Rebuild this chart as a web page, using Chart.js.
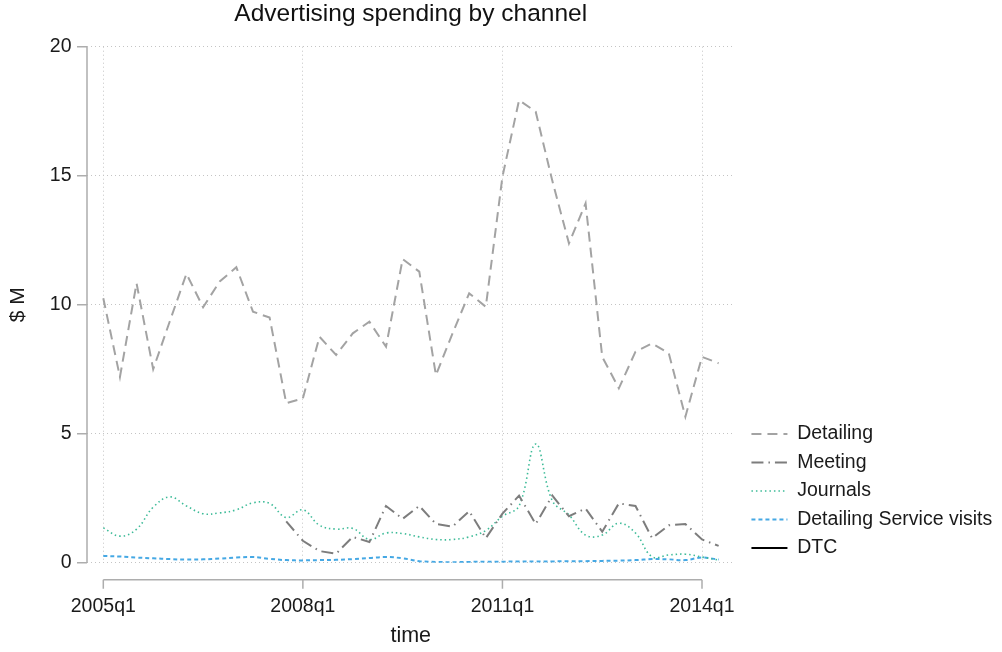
<!DOCTYPE html>
<html>
<head>
<meta charset="utf-8">
<title>Advertising spending by channel</title>
<script src="https://cdn.jsdelivr.net/npm/chart.js@4.4.1/dist/chart.umd.min.js"></script>
<style>
  html, body { margin: 0; padding: 0; background: #fff; }
  #wrap { width: 1002px; height: 652px; }
</style>
</head>
<body>
<div id="wrap"><canvas id="chart" width="1002" height="652"></canvas></div>
<script>
// Quarters 2005q1 .. 2014q2
const quarters = [
  "2005q1", "2005q2", "2005q3", "2005q4", "2006q1", "2006q2", "2006q3", "2006q4",
  "2007q1", "2007q2", "2007q3", "2007q4", "2008q1", "2008q2", "2008q3", "2008q4",
  "2009q1", "2009q2", "2009q3", "2009q4", "2010q1", "2010q2", "2010q3", "2010q4",
  "2011q1", "2011q2", "2011q3", "2011q4", "2012q1", "2012q2", "2012q3", "2012q4",
  "2013q1", "2013q2", "2013q3", "2013q4", "2014q1", "2014q2",
];
const tickLabels = ["2005q1", "2008q1", "2011q1", "2014q1"];
const yTicks = [0, 5, 10, 15, 20];

// $ M by channel
const detailing = [
  10.25, 7.2, 10.83, 7.5, 9.36, 11.2, 9.9, 10.9, 11.45, 9.73, 9.5, 6.18,
  6.37, 8.76, 8.05, 8.89, 9.34, 8.37, 11.77, 11.28, 7.27, 8.89, 10.44, 9.92,
  14.96, 17.93, 17.48, 14.8, 12.38, 13.93, 7.98, 6.76, 8.18, 8.5, 8.12, 5.66,
  7.98, 7.73,
];
const meeting = [
  null, null, null, null, null, null, null, null, null, null, null, 1.6,
  0.85, 0.45, 0.35, 1.0, 0.8, 2.2, 1.7, 2.2, 1.5, 1.4, 2.0, 0.95,
  1.9, 2.6, 1.5, 2.6, 1.8, 2.1, 1.2, 2.3, 2.2, 0.95, 1.45, 1.5,
  0.9, 0.65,
];
const journals = [
  1.35, 1.03, 1.3, 2.15, 2.55, 2.2, 1.9, 1.93, 2.05, 2.32, 2.3, 1.75,
  2.05, 1.45, 1.3, 1.33, 0.9, 1.15, 1.13, 1.0, 0.9, 0.9, 1.0, 1.25,
  1.8, 2.2, 4.6, 2.4, 1.85, 1.07, 1.07, 1.53, 1.15, 0.23, 0.3, 0.33,
  0.22, 0.1,
];
const serviceVisits = [
  0.26, 0.24, 0.2, 0.17, 0.14, 0.12, 0.13, 0.16, 0.2, 0.22, 0.15, 0.1,
  0.09, 0.1, 0.11, 0.14, 0.18, 0.22, 0.17, 0.06, 0.03, 0.02, 0.03, 0.04,
  0.04, 0.05, 0.05, 0.05, 0.06, 0.06, 0.07, 0.08, 0.1, 0.14, 0.13, 0.1,
  0.2, 0.12,
];
const dtc = [];

const FONT = "'Liberation Sans', Arial, Helvetica, sans-serif";
const TEXT = "#1a1a1a";
const GRID = "#c4c4c4";
const AXIS = "#adadad";

Chart.defaults.font.family = FONT;
Chart.defaults.color = TEXT;

const toPoints = (values) => values.map((v, i) => ({ x: i, y: v }));

// Stata-like axis lines, drawn a little off the plot region
const axisGap = 17;
const stataAxes = {
  id: "stataAxes",
  afterLayout(chart) {
    // legend sits a bit right of and below where Chart.js puts it
    const lg = chart.legend;
    lg.left += 8;
    lg.right = chart.width;
    lg.top += 4;
    lg.bottom += 4;
  },
  afterDraw(chart) {
    const { ctx, chartArea } = chart;
    const { x, y } = chart.scales;
    ctx.save();
    ctx.strokeStyle = AXIS;
    ctx.lineWidth = 1.5;
    ctx.beginPath();
    // y axis
    const ax = chartArea.left;
    ctx.moveTo(ax, y.getPixelForValue(yTicks[0]));
    ctx.lineTo(ax, y.getPixelForValue(yTicks[yTicks.length - 1]));
    yTicks.forEach((t) => {
      const py = y.getPixelForValue(t);
      ctx.moveTo(ax, py);
      ctx.lineTo(ax - 10, py);
    });
    // x axis
    const ay = chartArea.bottom + axisGap;
    const first = quarters.indexOf(tickLabels[0]);
    const last = quarters.indexOf(tickLabels[tickLabels.length - 1]);
    ctx.moveTo(x.getPixelForValue(first), ay);
    ctx.lineTo(x.getPixelForValue(last), ay);
    tickLabels.forEach((l) => {
      const px = x.getPixelForValue(quarters.indexOf(l));
      ctx.moveTo(px, ay);
      ctx.lineTo(px, ay + 9);
    });
    ctx.stroke();
    ctx.restore();
  },
};

new Chart(document.getElementById("chart"), {
  type: "line",
  data: {
    datasets: [
      {
        label: "Detailing",
        data: toPoints(detailing),
        borderColor: "#a3a3a3",
        backgroundColor: "#a3a3a3",
        borderWidth: 2,
        borderDash: [10, 6],
        tension: 0,
      },
      {
        label: "Meeting",
        data: toPoints(meeting),
        borderColor: "#7d7d7d",
        backgroundColor: "#7d7d7d",
        borderWidth: 2,
        borderDash: [12, 5, 1.5, 5],
        tension: 0,
      },
      {
        label: "Journals",
        data: toPoints(journals),
        borderColor: "#3dbb98",
        backgroundColor: "#3dbb98",
        borderWidth: 1.6,
        borderDash: [1.5, 3],
        tension: 0.4,
      },
      {
        label: "Detailing Service visits",
        data: toPoints(serviceVisits),
        borderColor: "#45a8e4",
        backgroundColor: "#45a8e4",
        borderWidth: 2,
        borderDash: [4, 3],
        tension: 0.4,
      },
      {
        label: "DTC",
        data: toPoints(dtc),
        borderColor: "#000000",
        backgroundColor: "#000000",
        borderWidth: 2,
      },
    ],
  },
  options: {
    responsive: false,
    animation: false,
    spanGaps: false,
    elements: { point: { radius: 0, hoverRadius: 0 } },
    layout: { padding: { left: 0, right: 22.75, top: 0, bottom: 0 } },
    scales: {
      x: {
        type: "linear",
        min: -0.98,
        max: 37.95,
        afterBuildTicks: (scale) => {
          scale.ticks = tickLabels.map((l) => ({ value: quarters.indexOf(l) }));
        },
        afterFit: (scale) => {
          scale.height = 89.3;
        },
        ticks: {
          autoSkip: false,
          maxRotation: 0,
          padding: 32,
          color: TEXT,
          font: { size: 19.5 },
          callback: (value) => quarters[value],
        },
        grid: { color: GRID, lineWidth: 1, drawTicks: false },
        border: { display: false, dash: [1, 3] },
        title: {
          display: true,
          text: "time",
          color: TEXT,
          font: { size: 21.5 },
          padding: { top: 0, bottom: 3 },
        },
      },
      y: {
        min: 0,
        max: 20,
        afterBuildTicks: (scale) => {
          scale.ticks = yTicks.map((v) => ({ value: v }));
        },
        afterFit: (scale) => {
          scale.width = 87;
        },
        ticks: {
          padding: 15.5,
          color: TEXT,
          font: { size: 19.5 },
        },
        grid: { color: GRID, lineWidth: 1, drawTicks: false },
        border: { display: false, dash: [1, 3] },
        title: {
          display: true,
          text: "$ M",
          color: TEXT,
          font: { size: 21 },
          padding: { top: 6, bottom: 0 },
        },
      },
    },
    plugins: {
      title: {
        display: true,
        text: "Advertising spending by channel",
        fullSize: false,
        color: "#111111",
        font: { size: 24.5, weight: "normal" },
        padding: { top: 0, bottom: 17.3 },
      },
      legend: {
        position: "right",
        align: "end",
        fullSize: false,
        labels: {
          usePointStyle: true,
          pointStyle: "line",
          pointStyleWidth: 36,
          padding: 9,
          color: TEXT,
          font: { size: 19.5 },
          // carry the line dash of each series into its legend sample
          generateLabels: (chart) => {
            const items = Chart.defaults.plugins.legend.labels.generateLabels(chart);
            items.forEach((item) => {
              const ds = chart.data.datasets[item.datasetIndex];
              item.lineDash = ds.borderDash || [];
              item.lineWidth = ds.borderWidth;
              item.strokeStyle = ds.borderColor;
            });
            return items;
          },
        },
      },
      tooltip: { enabled: false },
    },
  },
  plugins: [stataAxes],
});
</script>
</body>
</html>
